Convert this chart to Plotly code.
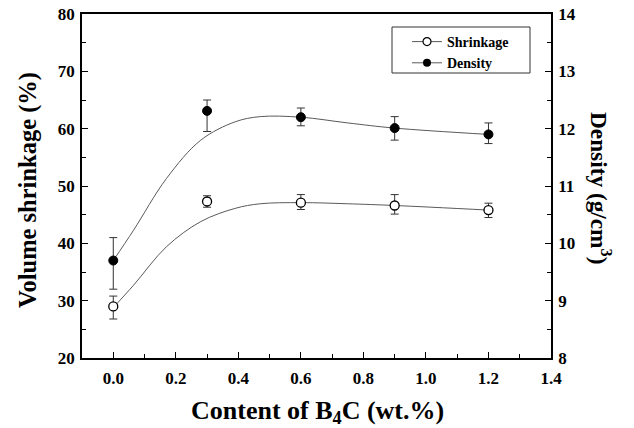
import plotly.graph_objects as go

# ---- data ----
content = [0.0, 0.3, 0.6, 0.9, 1.2]
shrinkage = [29.0, 47.3, 47.1, 46.6, 45.8]
shrink_err_plus = [1.8, 1.0, 1.4, 1.9, 1.2]
shrink_err_minus = [2.2, 1.0, 1.2, 1.5, 1.3]
density = [9.70, 12.31, 12.20, 12.01, 11.90]
dens_err_plus = [0.40, 0.19, 0.16, 0.20, 0.20]
dens_err_minus = [0.50, 0.36, 0.15, 0.21, 0.16]

# fitted smooth curves
fit_x = [0.0, 0.065, 0.17, 0.28, 0.39, 0.47, 0.6, 0.75, 0.9, 1.2]
shrink_fit = [28.8, 32.7, 39.4, 43.8, 46.1, 46.9, 47.1, 46.9, 46.6, 45.8]
dens_fit = [9.70, 10.23, 11.13, 11.80, 12.12, 12.21, 12.20, 12.10, 12.01, 11.90]

x_ticks = [0.0, 0.2, 0.4, 0.6, 0.8, 1.0, 1.2, 1.4]
x_ticklabels = ["0.0", "0.2", "0.4", "0.6", "0.8", "1.0", "1.2", "1.4"]

FONT = "Liberation Serif"
LINE_C = "#5a5a5a"

# page body margin removed via post_script, so figure starts at (0, 0)
W, H = 634, 428
L, R, T, B = 82, 83, 14, 70
PW, PH = W - L - R, H - T - B


def px_x(s):
    """screenshot x pixel -> paper x"""
    return (s - L) / PW


def px_y(s):
    """screenshot y pixel -> paper y"""
    return (H - B - s) / PH


fig = go.Figure()

# fit lines
fig.add_trace(go.Scatter(x=fit_x, y=shrink_fit, mode="lines", line=dict(color=LINE_C, width=1, shape="spline"),
                         showlegend=False, hoverinfo="skip"))
fig.add_trace(go.Scatter(x=fit_x, y=dens_fit, mode="lines", line=dict(color=LINE_C, width=1, shape="spline"),
                         showlegend=False, hoverinfo="skip", yaxis="y2"))

# data points
fig.add_trace(go.Scatter(x=content, y=shrinkage, mode="markers",
                         marker=dict(symbol="circle", size=9, color="white", line=dict(color="black", width=1.3)),
                         error_y=dict(type="data", array=shrink_err_plus, arrayminus=shrink_err_minus,
                                      color="#333", thickness=1, width=4),
                         showlegend=False))
fig.add_trace(go.Scatter(x=content, y=density, mode="markers", yaxis="y2",
                         marker=dict(symbol="circle", size=9, color="black", line=dict(color="black", width=1)),
                         error_y=dict(type="data", array=dens_err_plus, arrayminus=dens_err_minus,
                                      color="#333", thickness=1, width=4),
                         showlegend=False))

# legend entries
fig.add_trace(go.Scatter(x=[None], y=[None], mode="lines+markers", name="Shrinkage",
                         line=dict(color=LINE_C, width=1),
                         marker=dict(symbol="circle", size=8, color="white", line=dict(color="black", width=1.2))))
fig.add_trace(go.Scatter(x=[None], y=[None], mode="lines+markers", name="Density",
                         line=dict(color=LINE_C, width=1),
                         marker=dict(symbol="circle", size=8, color="black")))

tickfont = dict(family=FONT, size=17, color="black", weight="bold")
common_y = dict(ticks="inside", ticklen=6, tickwidth=1.2, tickcolor="black",
                showline=True, linecolor="black", linewidth=1.5,
                showgrid=False, zeroline=False, tickfont=tickfont, automargin=False,
                ticklabelstandoff=2, ticklabeloverflow="allow")

fig.update_layout(
    width=W, height=H,
    margin=dict(l=L, r=R, t=T, b=B),
    paper_bgcolor="white", plot_bgcolor="white",
    font=dict(family=FONT, color="black"),
    xaxis=dict(range=[-0.1, 1.4], tickvals=x_ticks, ticktext=x_ticklabels,
               ticks="inside", ticklen=6, tickwidth=1.2, tickcolor="black",
               minor=dict(dtick=0.1, tick0=0, ticks="inside", ticklen=4, tickwidth=1.2, tickcolor="black"),
               showline=True, linecolor="black", linewidth=1.5, mirror=True,
               showgrid=False, zeroline=False, tickfont=tickfont, automargin=False,
               ticklabelstandoff=4, ticklabeloverflow="allow"),
    yaxis=dict(range=[20, 80], dtick=10,
               minor=dict(dtick=5, ticks="inside", ticklen=4, tickwidth=1.2, tickcolor="black"),
               **common_y),
    yaxis2=dict(range=[8, 14], dtick=1, overlaying="y", side="right",
                minor=dict(dtick=0.5, ticks="inside", ticklen=4, tickwidth=1.2, tickcolor="black"),
                **common_y),
    legend=dict(x=px_x(407), y=px_y(26), xanchor="left", yanchor="top",
                borderwidth=0, bgcolor="rgba(0,0,0,0)",
                font=dict(family=FONT, size=14, color="black", weight="bold"),
                tracegroupgap=0, itemwidth=30),
    shapes=[dict(type="rect", xref="paper", yref="paper",
                 x0=px_x(392), x1=px_x(530), y0=px_y(73), y1=px_y(27),
                 line=dict(color="#333", width=1), fillcolor="white", layer="above")],
    annotations=[
        dict(text="Volume shrinkage (%)", textangle=-90, x=px_x(28), y=px_y(190),
             xref="paper", yref="paper", showarrow=False, xanchor="center", yanchor="middle",
             font=dict(family=FONT, size=24.5, color="black", weight="bold")),
        dict(text="Content of B<sub>4</sub>C (wt.%)", x=px_x(317), y=px_y(411.5),
             xref="paper", yref="paper", showarrow=False, xanchor="center", yanchor="middle",
             font=dict(family=FONT, size=26, color="black", weight="bold")),
        dict(text="Density (g/cm<sup>3</sup>)", textangle=90, x=px_x(601), y=px_y(188),
             xref="paper", yref="paper", showarrow=False, xanchor="center", yanchor="middle",
             font=dict(family=FONT, size=23.3, color="black", weight="bold")),
    ],
)

fig.write_html("out.html", config={"displayModeBar": False},
               post_script="document.body.style.margin='0';")
